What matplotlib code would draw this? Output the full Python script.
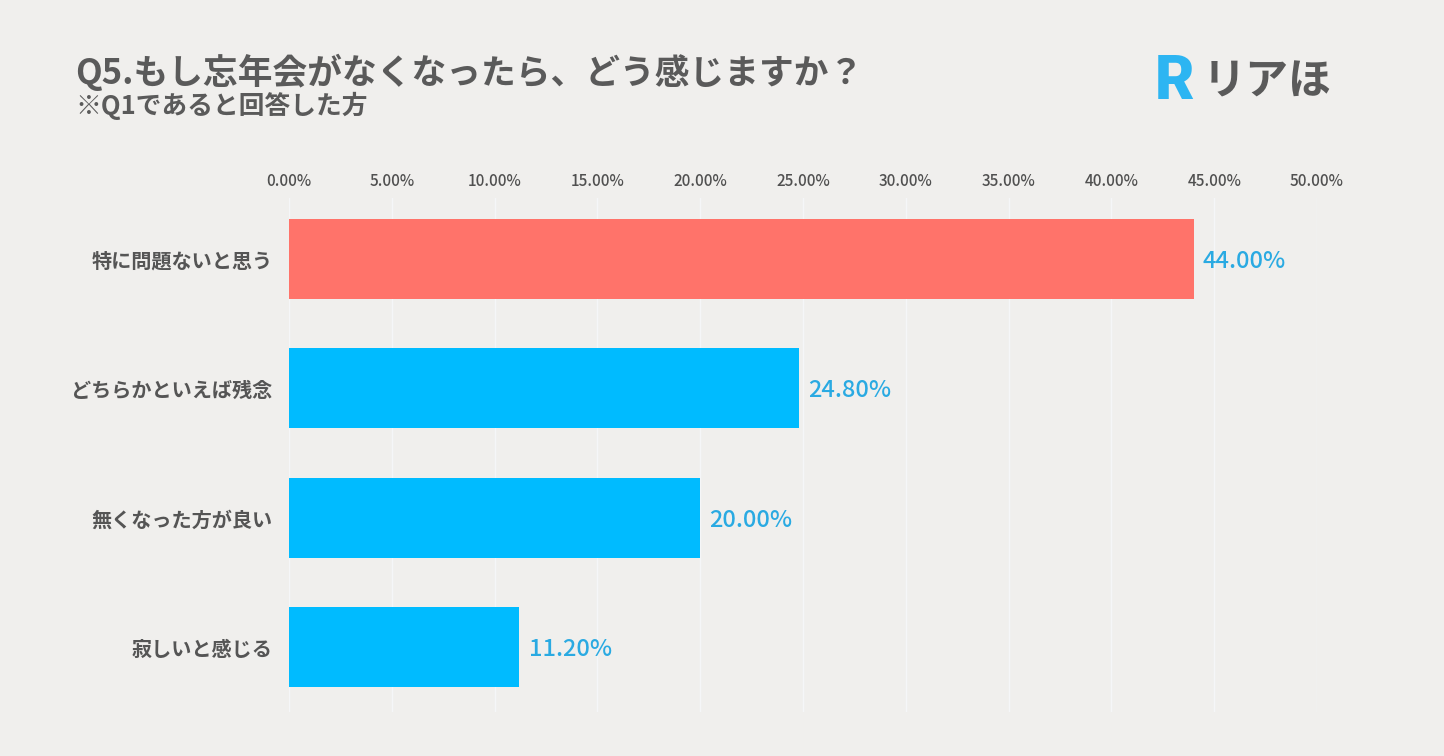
import matplotlib
matplotlib.use("Agg")
import matplotlib.pyplot as plt

plt.rcParams['font.family'] = ['Noto Sans CJK JP', 'DejaVu Sans']

categories = ["特に問題ないと思う", "どちらかといえば残念", "無くなった方が良い", "寂しいと感じる"]
values = [44.00, 24.80, 20.00, 11.20]
bar_colors = ["#FF736A", "#00BBFF", "#00BBFF", "#00BBFF"]
xticks = [0, 5, 10, 15, 20, 25, 30, 35, 40, 45, 50]
xtick_labels = [f"{t:.2f}%" for t in xticks]
title = "Q5.もし忘年会がなくなったら、どう感じますか？"
subtitle = "※Q1であると回答した方"

bg = "#F0EFED"
fig = plt.figure(figsize=(14.44, 7.56), dpi=100, facecolor=bg)
ax = fig.add_axes([289/1444, 1-712/756, (1317-289)/1444, (712-198)/756])
ax.set_facecolor(bg)

ypos = list(range(len(categories)))
ax.barh(ypos, values, height=0.62, color=bar_colors, zorder=3)
ax.set_xlim(0, 50)
ax.set_ylim(3.5, -0.47)

ax.set_xticks(xticks)
ax.set_xticklabels(xtick_labels, fontweight='medium')
ax.xaxis.tick_top()
ax.tick_params(axis='x', length=0, pad=6, labelsize=11, labelcolor="#505050")
ax.set_yticks(ypos)
ax.set_yticklabels(categories, fontweight='bold', fontsize=14.5, color="#555555")
ax.tick_params(axis='y', length=0, pad=12)
ax.grid(axis='x', color="#F5F6F8", linewidth=1.0, zorder=0)
ax.grid(axis='y', visible=False)
for s in ax.spines.values():
    s.set_visible(False)

for y, v in zip(ypos, values):
    ax.text(v + 0.45, y + 0.02, f"{v:.2f}%", va='center', ha='left', fontsize=17,
            fontweight='medium', color="#2AAAE2", zorder=4)

fig.text(75/1444, 1-72/756, title, fontsize=25, fontweight='bold', color="#5A5A5A",
         va='center', ha='left')
fig.text(75/1444, 1-106/756, subtitle, fontsize=18.5, fontweight='bold', color="#5A5A5A",
         va='center', ha='left')

# logo
fig.text(1155/1444, 1-82/756, "R", fontsize=44, fontweight='heavy', color="#2DB5F2",
         va='center', ha='left', family=['Roboto', 'DejaVu Sans'])
fig.text(1203/1444, 1-82/756, "リアほ", fontsize=31, fontweight='bold', color="#5A5A5A",
         va='center', ha='left')

fig.savefig("out.png", dpi=100, facecolor=bg)
